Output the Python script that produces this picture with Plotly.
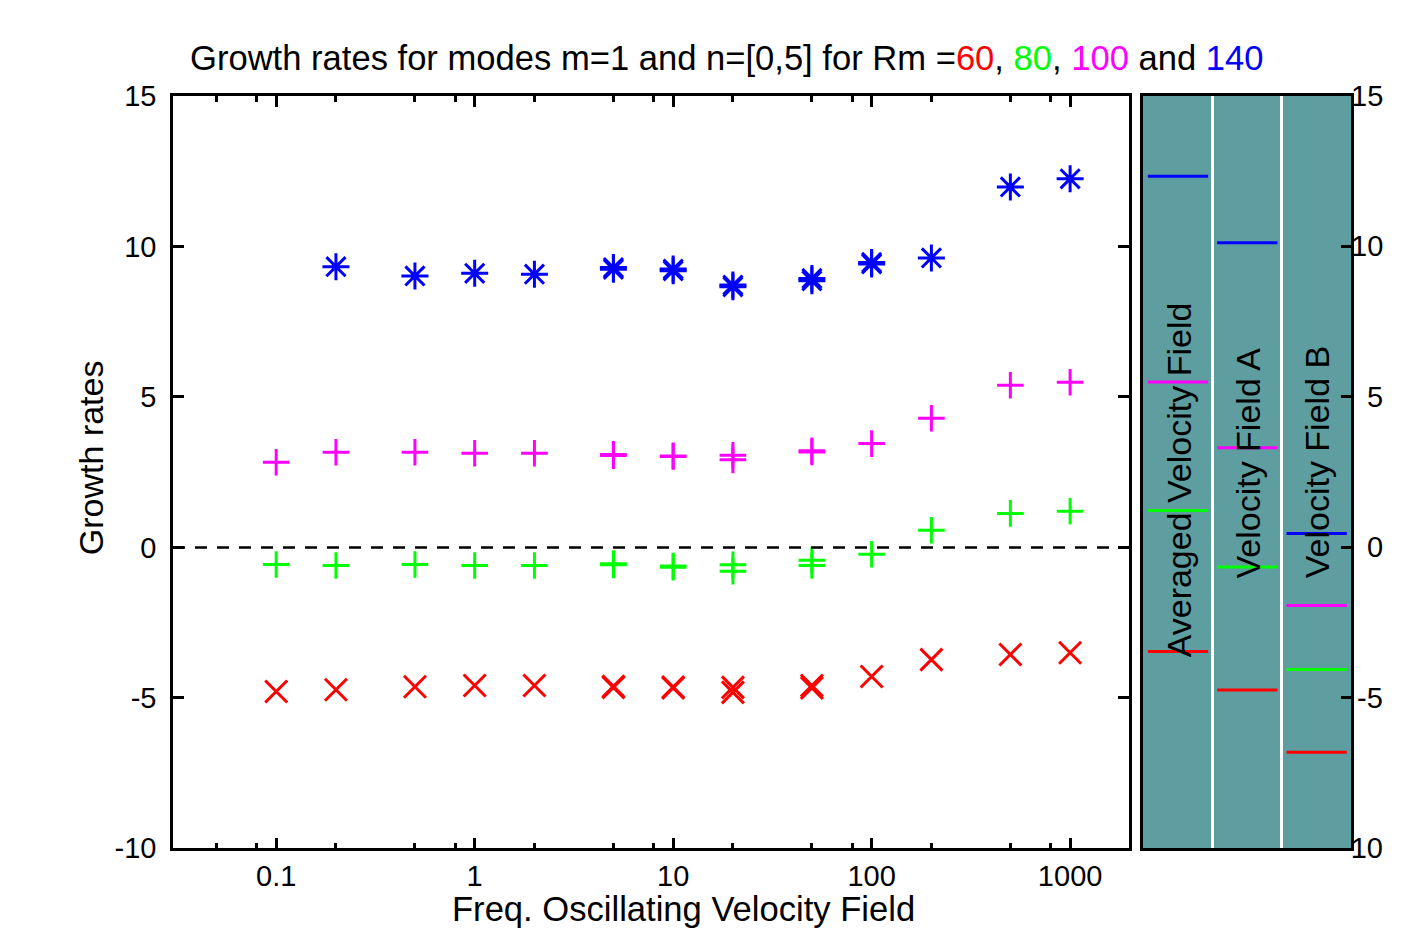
import math
import plotly.graph_objects as go

# ---------------- data ----------------
freq = [0.1, 0.2, 0.5, 1, 2, 5, 10, 20, 50, 100, 200, 500, 1000]
freq_blue = [0.2, 0.5, 1, 2, 5, 10, 20, 50, 100, 200, 500, 1000]

gr_rm60 = [-4.79, -4.73, -4.63, -4.59, -4.59, -4.65, -4.67, -4.65, -4.59, -4.29, -3.73, -3.56, -3.50]
gr_rm80 = [-0.57, -0.60, -0.57, -0.60, -0.60, -0.54, -0.62, -0.58, -0.43, -0.23, 0.57, 1.13, 1.20]
gr_rm100 = [2.83, 3.16, 3.16, 3.13, 3.13, 3.09, 3.04, 3.06, 3.21, 3.45, 4.29, 5.39, 5.49]
gr_rm140 = [9.33, 9.02, 9.11, 9.08, 9.30, 9.19, 8.72, 8.94, 9.42, 9.62, 11.98, 12.25]

# secondary modes (nearly overlapping marks)
freq_extra = [5, 10, 20, 50]
gr_rm60_extra = [-4.62, -4.64, -4.82, -4.67]
gr_rm80_extra = [-0.58, -0.66, -0.79, -0.60]
gr_rm100_extra = [3.05, 3.02, 2.91, 3.17]
freq_blue_extra = [5, 10, 20, 50, 100]
gr_rm140_extra = [9.24, 9.25, 8.66, 8.86, 9.47]

# right panel: growth rates for the steady velocity fields
panel_labels = ["Averaged Velocity Field", "Velocity Field A", "Velocity Field B"]
panel_rm60 = [-3.46, -4.74, -6.81]
panel_rm80 = [1.23, -0.65, -4.06]
panel_rm100 = [5.50, 3.31, -1.93]
panel_rm140 = [12.33, 10.12, 0.46]

x_major = [0.1, 1, 10, 100, 1000]
x_major_text = ["0.1", "1", "10", "100", "1000"]
x_minor = [0.05, 0.08, 0.2, 0.5, 0.8, 2, 5, 8, 20, 50, 80, 200, 500, 800]
y_ticks = [-10, -5, 0, 5, 10, 15]
y_tick_text = ["-10", "-5", "0", "5", "10", "15"]

RED, GREEN, MAG, BLUE = "#FF0000", "#00FF00", "#FF00FF", "#0000FF"
YELLOW = "#FFF0C4"
FONT = "Liberation Sans, Arial, Helvetica, sans-serif"

W, H = 1404, 951
# map target picture pixels to layout pixels (compensates page offset)
def px(x):
    return (x - 7) / W
def py(y):
    return (H - (y - 24) / 0.966) / H

fig = go.Figure()

def add_marks(xs, ys, color, symbol, size):
    fig.add_trace(go.Scatter(
        x=xs, y=ys, mode="markers", xaxis="x", yaxis="y",
        marker=dict(symbol=symbol, size=size, color=color,
                    line=dict(color=color, width=3)),
        showlegend=False, hoverinfo="skip"))

add_marks(freq, gr_rm60, RED, "x-thin-open", 22)
add_marks(freq_extra, gr_rm60_extra, RED, "x-thin-open", 22)
add_marks(freq, gr_rm80, GREEN, "cross-thin-open", 19)
add_marks(freq_extra, gr_rm80_extra, GREEN, "cross-thin-open", 19)
add_marks(freq, gr_rm100, MAG, "cross-thin-open", 19)
add_marks(freq_extra, gr_rm100_extra, MAG, "cross-thin-open", 19)
add_marks(freq_blue, gr_rm140, BLUE, "asterisk-open", 22.5)
add_marks(freq_blue_extra, gr_rm140_extra, BLUE, "asterisk-open", 22.5)

# panel segments
def add_panel(vals, color):
    xs, ys = [], []
    for i, v in enumerate(vals):
        xs += [i + 0.07, i + 0.94, None]
        ys += [v, v, None]
    fig.add_trace(go.Scatter(x=xs, y=ys, mode="lines", xaxis="x2", yaxis="y2",
                             line=dict(color=color, width=3),
                             showlegend=False, hoverinfo="skip"))

add_panel(panel_rm140, BLUE)
add_panel(panel_rm100, MAG)
add_panel(panel_rm80, GREEN)
add_panel(panel_rm60, RED)

x_dom = [px(172), px(1128)]
x2_dom = [px(1142), px(1350)]
y_dom = [py(848), py(96)]

fig.update_layout(
    width=W, height=H,
    margin=dict(l=0, r=0, t=0, b=0),
    paper_bgcolor="white",
    plot_bgcolor="white",
    font=dict(family=FONT, color="black", size=29),
    xaxis=dict(domain=x_dom, type="log",
               range=[math.log10(0.0302), math.log10(1980)],
               tickvals=x_major, ticktext=x_major_text,
               ticks="inside", ticklen=11, tickwidth=2.5, tickcolor="black",
               minor=dict(tickvals=x_minor, ticks="inside", ticklen=6,
                          tickwidth=2.5, tickcolor="black", showgrid=False),
               showline=True, linecolor="black", linewidth=2.5, mirror="ticks",
               showgrid=False, zeroline=False, anchor="y",
               tickfont=dict(size=29)),
    yaxis=dict(domain=y_dom, range=[-10, 15], tickvals=y_ticks,
               ticktext=y_tick_text,
               ticks="inside", ticklen=11, tickwidth=2.5, tickcolor="black",
               showline=True, linecolor="black", linewidth=2.5, mirror="ticks",
               showgrid=False, zeroline=False, anchor="x",
               ticklabelstandoff=8, tickfont=dict(size=29)),
    xaxis2=dict(domain=x2_dom, range=[0, 3], tickvals=[1, 2],
                showticklabels=False, ticks="", showgrid=True,
                gridcolor="white", gridwidth=3,
                showline=True, linecolor="black", linewidth=2.5, mirror=True,
                zeroline=False, anchor="y2"),
    yaxis2=dict(domain=y_dom, range=[-10, 15], tickvals=y_ticks, side="right",
                ticks="inside", ticklen=10, tickwidth=2.5, tickcolor="black",
                showticklabels=False, showgrid=False, zeroline=False,
                showline=True, linecolor="black", linewidth=2.5, mirror=True,
                anchor="x2"),
)

# yellow page frame at the right edge
fig.add_shape(type="rect", xref="paper", yref="paper",
              x0=px(1396), x1=1.0, y0=-0.05, y1=1.05,
              fillcolor=YELLOW, line=dict(width=0), layer="above")
# teal panel background
fig.add_shape(type="rect", xref="x2 domain", yref="y2 domain",
              x0=0, x1=1, y0=0, y1=1,
              fillcolor="#5F9EA0", line=dict(width=0), layer="below")
# zero line
fig.add_shape(type="line", xref="x domain", yref="y", x0=0, x1=1, y0=0, y1=0,
              line=dict(color="black", width=2.5, dash="12px,10px"))

# title
title = ('Growth rates for modes m=1 and n=[0,5] for Rm ='
         f'<span style="color:{RED}">60</span>, '
         f'<span style="color:{GREEN}">80</span>, '
         f'<span style="color:{MAG}">100</span> and '
         f'<span style="color:{BLUE}">140</span>')
fig.add_annotation(text=title, xref="paper", yref="paper", x=px(726), y=py(58),
                   xanchor="center", yanchor="middle", showarrow=False,
                   font=dict(size=34.6))
fig.add_annotation(text="Freq. Oscillating Velocity Field", xref="paper", yref="paper",
                   x=px(682), y=py(909), xanchor="center", yanchor="middle",
                   showarrow=False, font=dict(size=34.6))
fig.add_annotation(text="Growth rates", xref="paper", yref="paper",
                   x=px(90), y=py(458), xanchor="center", yanchor="middle",
                   textangle=-90, showarrow=False, font=dict(size=34))

# panel labels
label_pos = [(0.52, 2.23), (1.51, 2.81), (2.51, 2.83)]
for lab, (lx, ly) in zip(panel_labels, label_pos):
    fig.add_annotation(text=lab, xref="x2", yref="y2", x=lx, y=ly,
                       xanchor="center", yanchor="middle", textangle=-90,
                       showarrow=False, font=dict(size=34))

# right axis tick labels (right-aligned, overlapping the axis as in the original)
for v, t in zip(y_ticks, y_tick_text):
    fig.add_annotation(text=t, xref="paper", yref="y2", x=px(1383), y=v,
                       xanchor="right", yanchor="middle", showarrow=False,
                       font=dict(size=29), borderpad=0)

fig.write_html("out.html")
